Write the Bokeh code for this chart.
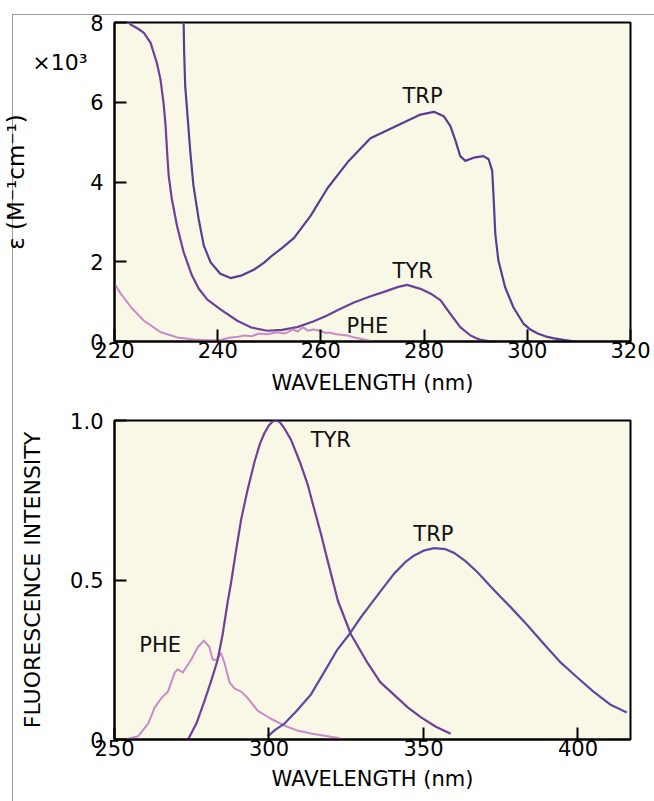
from bokeh.plotting import figure
from bokeh.layouts import column
from bokeh.models import Range1d, FixedTicker, ColumnDataSource, LinearAxis
from bokeh.core.properties import value
from bokeh.embed import file_html
from bokeh.resources import INLINE

# ---------------- Absorption (top panel) ----------------
abs_trp_wl = [233.3, 233.4, 233.5, 233.7, 234.2, 234.7, 235.3, 236.3, 237.3, 238.6, 240.5, 242.5,
              244.7, 247.0, 249.0, 250.5, 252.5, 254.8, 258.0, 261.3, 265.2, 269.6, 274.2, 279.3,
              281.9, 283.8, 285.1, 286.1, 287.0, 288.0, 289.6, 291.5, 292.5, 293.2, 293.5, 293.8,
              294.4, 295.7, 297.3, 299.3, 300.6, 302.0, 303.5, 305.2, 307.0, 309.3]
abs_trp = [8.3, 8.0, 7.24, 6.41, 5.58, 4.74, 3.91, 3.08, 2.41, 1.99, 1.7, 1.59,
           1.66, 1.8, 1.98, 2.15, 2.35, 2.6, 3.15, 3.85, 4.5, 5.1, 5.38, 5.69,
           5.76, 5.65, 5.4, 5.03, 4.65, 4.53, 4.61, 4.65, 4.57, 4.28, 3.53, 2.69,
           2.03, 1.36, 0.86, 0.44, 0.3, 0.2, 0.13, 0.08, 0.04, 0.0]

abs_tyr_wl = [222.0, 223.1, 224.5, 225.7, 227.0, 228.2, 228.9, 229.5, 229.9, 230.2, 230.5, 231.1,
              232.1, 233.4, 235.0, 236.3, 238.0, 240.6, 243.8, 246.5, 249.6, 252.5, 255.4, 258.5,
              261.0, 263.5, 266.4, 269.5, 272.8, 275.0, 276.7, 279.3, 281.3, 283.2, 285.1, 287.0,
              289.0, 290.9, 292.5, 294.0]
abs_tyr = [8.3, 7.95, 7.85, 7.74, 7.49, 6.99, 6.58, 5.99, 5.41, 4.74, 4.16, 3.58,
           2.91, 2.24, 1.66, 1.33, 1.05, 0.8, 0.52, 0.35, 0.27, 0.29, 0.36, 0.5,
           0.64, 0.8, 0.98, 1.13, 1.27, 1.37, 1.42, 1.32, 1.2, 1.03, 0.69, 0.36,
           0.15, 0.04, 0.01, 0.0]

abs_phe_wl = [220.0, 221.2, 223.2, 225.7, 229.0, 232.2, 235.4, 238.0, 240.5, 242.5, 244.0, 245.1,
              246.5, 248.0, 249.5, 251.5, 253.0, 254.5, 255.5, 256.5, 257.5, 258.5, 259.9, 260.8,
              261.8, 263.0, 265.1, 266.5, 268.3, 270.2]
abs_phe = [1.45, 1.2, 0.86, 0.52, 0.23, 0.1, 0.05, 0.03, 0.04, 0.1, 0.12, 0.15,
           0.13, 0.2, 0.18, 0.23, 0.2, 0.3, 0.25, 0.36, 0.27, 0.3, 0.27, 0.22,
           0.22, 0.18, 0.15, 0.1, 0.05, 0.0]

abs_x_ticks = [220, 240, 260, 280, 300, 320]
abs_y_ticks = [0, 2, 4, 6, 8]
abs_scale_tick = {7: "×10³"}
abs_names = ["TRP", "TYR", "PHE"]
abs_name_x = [279.7, 277.8, 269.0]
abs_name_y = [6.15, 1.78, 0.4]

# ---------------- Emission (bottom panel) ----------------
em_phe_wl = [253.3, 257.6, 260.9, 263.0, 265.2, 267.3, 269.5, 270.5, 272.1, 274.8, 277.0, 278.9,
             280.7, 281.8, 283.0, 284.5, 285.6, 287.2, 288.8, 291.0, 293.1, 296.4, 300.6, 304.9,
             309.2, 314.0, 319.0, 323.0]
em_phe = [0.0, 0.01, 0.05, 0.1, 0.13, 0.15, 0.21, 0.22, 0.21, 0.25, 0.29, 0.31,
          0.29, 0.25, 0.25, 0.27, 0.24, 0.18, 0.16, 0.15, 0.13, 0.09, 0.065, 0.044,
          0.028, 0.018, 0.01, 0.004]

em_tyr_wl = [273.8, 276.5, 279.1, 281.5, 283.4, 285.0, 286.7, 287.7, 289.3, 291.0, 293.0, 295.3,
             297.0, 298.5, 300.0, 301.2, 302.3, 303.5, 305.0, 307.1, 310.0, 312.5, 314.7, 316.8,
             319.0, 322.3, 326.5, 331.9, 336.0, 340.5, 345.0, 349.1, 354.0, 358.8]
em_tyr = [0.0, 0.05, 0.12, 0.19, 0.25, 0.33, 0.435, 0.49, 0.59, 0.69, 0.78, 0.87,
          0.925, 0.96, 0.985, 0.997, 1.0, 0.995, 0.975, 0.94, 0.87, 0.8, 0.72, 0.645,
          0.56, 0.435, 0.33, 0.24, 0.18, 0.14, 0.1, 0.07, 0.04, 0.018]

em_trp_wl = [299.6, 302.0, 305.0, 309.0, 313.5, 319.0, 322.0, 326.0, 329.5, 333.0, 336.5, 340.5,
             344.0, 347.0, 350.0, 353.5, 357.0, 359.9, 363.5, 367.4, 372.5, 378.2, 383.5, 388.9,
             394.0, 399.7, 405.0, 410.4, 415.8]
em_trp = [0.01, 0.03, 0.05, 0.09, 0.14, 0.23, 0.28, 0.33, 0.38, 0.425, 0.47, 0.52,
          0.555, 0.577, 0.592, 0.6, 0.597, 0.585, 0.56, 0.525, 0.472, 0.415, 0.36, 0.30,
          0.245, 0.195, 0.15, 0.11, 0.085]

em_x_ticks = [250, 300, 350, 400]
em_y_ticks = [0, 0.5, 1.0]
em_y_labels = {0: "0", 0.5: "0.5", 1: "1.0"}
em_names = ["TYR", "TRP", "PHE"]
em_name_x = [320.0, 353.2, 264.8]
em_name_y = [0.94, 0.645, 0.295]

# ---------------- styling ----------------
BG = "#f9f7e6"
FONT = "DejaVu Sans"
C_TRP = "#5a3d93"
C_TYR = "#6e4199"
C_PHE = "#c98cc8"
C_TRP2 = "#5b4aa3"


def style_axis(ax):
    ax.axis_line_width = 2
    ax.axis_line_color = "black"
    ax.major_tick_in = 12
    ax.major_tick_out = 0
    ax.major_tick_line_width = 2
    ax.major_tick_line_color = "black"
    ax.minor_tick_line_color = None
    ax.major_label_text_font = FONT
    ax.major_label_text_font_size = "21px"
    ax.major_label_text_color = "black"
    ax.axis_label_text_font = FONT
    ax.axis_label_text_font_style = "normal"
    ax.axis_label_text_color = "black"


def style(p):
    p.background_fill_color = BG
    p.border_fill_color = None
    p.outline_line_color = "black"
    p.outline_line_width = 2
    p.grid.visible = False
    for ax in p.xaxis + p.yaxis:
        style_axis(ax)
    p.xaxis.major_label_standoff = 0
    p.yaxis.major_label_standoff = 11


# ---------------- top figure ----------------
p1 = figure(width=654, height=400, output_backend="svg", toolbar_location=None,
            x_range=Range1d(220, 320), y_range=Range1d(0, 8),
            min_border_left=113, min_border_right=24, min_border_top=22, min_border_bottom=59)
style(p1)
p1.xaxis.ticker = FixedTicker(ticks=abs_x_ticks)
p1.yaxis.ticker = FixedTicker(ticks=abs_y_ticks)
p1.xaxis.axis_label = "WAVELENGTH (nm)"
p1.xaxis.axis_label_text_font_size = "21px"
p1.xaxis.axis_label_standoff = 10

# outer axis carrying the "×10³" multiplier and the quantity label
scale_axis = LinearAxis(ticker=FixedTicker(ticks=list(abs_scale_tick.keys())),
                        major_label_overrides=abs_scale_tick)
style_axis(scale_axis)
scale_axis.axis_line_color = None
scale_axis.major_tick_line_color = None
scale_axis.major_tick_in = 0
scale_axis.major_tick_out = 0
scale_axis.major_label_standoff = 0
scale_axis.major_label_text_font_size = "22px"
scale_axis.major_label_text_baseline = "alphabetic"
scale_axis.axis_label = "ε (M⁻¹cm⁻¹)"
scale_axis.axis_label_text_font_size = "23px"
scale_axis.axis_label_standoff = 0
p1.add_layout(scale_axis, "left")

p1.line(abs_trp_wl, abs_trp, line_color=C_TRP, line_width=2.2, line_join="round")
p1.line(abs_tyr_wl, abs_tyr, line_color=C_TYR, line_width=2.2, line_join="round")
p1.line(abs_phe_wl, abs_phe, line_color=C_PHE, line_width=2.0, line_join="round")

src1 = ColumnDataSource(dict(x=abs_name_x, y=abs_name_y, t=abs_names))
p1.text(x="x", y="y", text="t", source=src1, text_font=value(FONT), text_font_size="21px",
        text_align="center", text_baseline="middle", text_color="#111111")

# ---------------- bottom figure ----------------
p2 = figure(width=654, height=401, output_backend="svg", toolbar_location=None,
            x_range=Range1d(250, 417), y_range=Range1d(0, 1.0),
            min_border_left=113, min_border_right=24, min_border_top=20, min_border_bottom=62)
style(p2)
p2.xaxis.ticker = FixedTicker(ticks=em_x_ticks)
p2.yaxis.ticker = FixedTicker(ticks=em_y_ticks)
p2.yaxis.major_label_overrides = em_y_labels
p2.xaxis.axis_label = "WAVELENGTH (nm)"
p2.xaxis.axis_label_text_font_size = "21px"
p2.xaxis.axis_label_standoff = 8
p2.yaxis.axis_label = "FLUORESCENCE INTENSITY"
p2.yaxis.axis_label_text_font_size = "22px"
p2.yaxis.axis_label_standoff = 22

p2.line(em_phe_wl, em_phe, line_color=C_PHE, line_width=2.0, line_join="round")
p2.line(em_tyr_wl, em_tyr, line_color=C_TYR, line_width=2.2, line_join="round")
p2.line(em_trp_wl, em_trp, line_color=C_TRP2, line_width=2.2, line_join="round")

src2 = ColumnDataSource(dict(x=em_name_x, y=em_name_y, t=em_names))
p2.text(x="x", y="y", text="t", source=src2, text_font=value(FONT), text_font_size="21px",
        text_align="center", text_baseline="middle", text_color="#111111")

# thin grey page frame (left and top edges) drawn behind the transparent figure borders
frame_css = ("linear-gradient(#9c9c9c, #9c9c9c) 12px 14px / 1px 100% no-repeat, "
             "linear-gradient(#9c9c9c, #9c9c9c) 12px 14px / 100% 1px no-repeat, white")
layout = column(p1, p2, spacing=0, styles={"background": frame_css})
open("out.html", "w").write(file_html(layout, INLINE))
